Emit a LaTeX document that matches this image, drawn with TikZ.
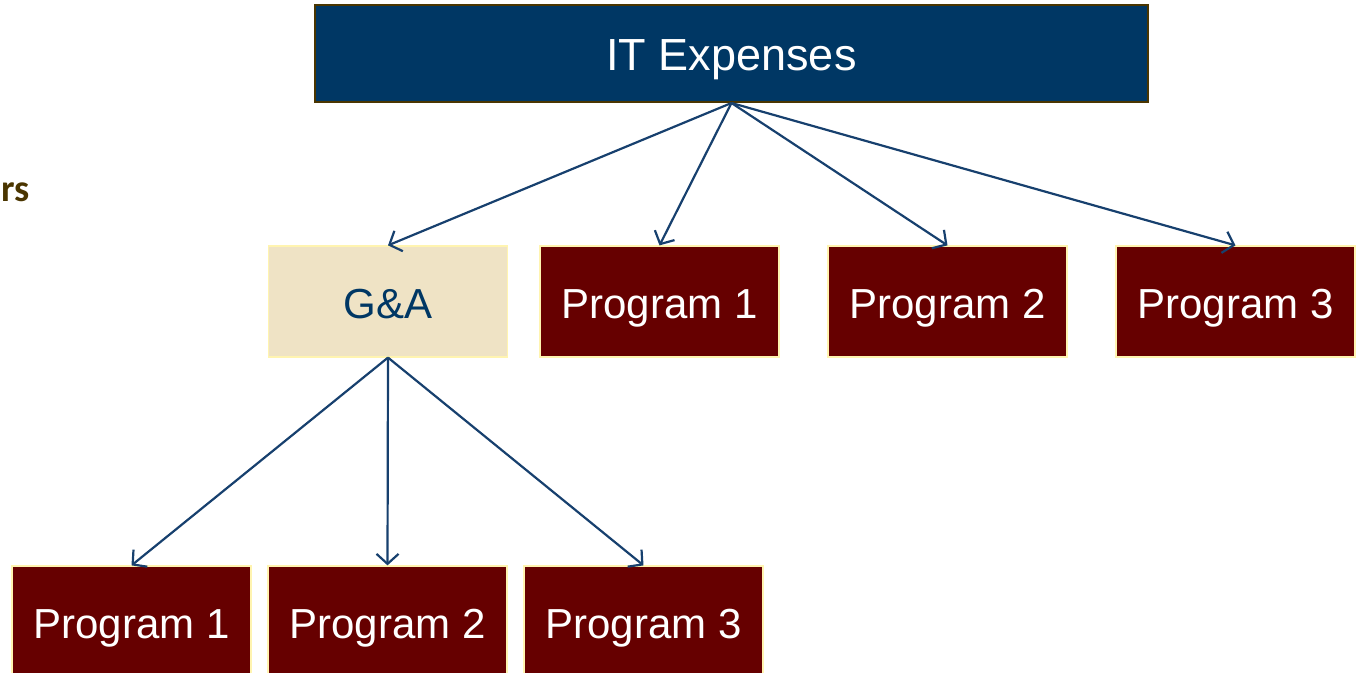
\documentclass[tikz,border=0pt]{standalone}
\usepackage{fontspec}
\setmainfont{Liberation Sans}
\newfontfamily\notefont{Carlito}
\usetikzlibrary{positioning, arrows.meta}
\definecolor{itnavy}{HTML}{003764}
\definecolor{progred}{HTML}{660000}
\definecolor{gasand}{HTML}{EFE3C5}
\definecolor{edgeyellow}{HTML}{FFF4B0}
\definecolor{edgebrown}{HTML}{4A3500}
\definecolor{arrownavy}{HTML}{17406E}
\tikzset{
top box/.style = {
             draw=edgebrown,
             line width=1pt,
             fill=itnavy,
             text=white,
             minimum width=416.5pt,
             minimum height=48.5pt,
             text height=17.2pt,
             text depth=0pt,
             font=\fontsize{22.5}{27}\selectfont
   },
cost box/.style = {
             draw=edgeyellow,
             line width=0.6pt,
             fill=progred,
             text=white,
             minimum width=119.5pt,
             minimum height=55.5pt,
             text height=16.8pt,
             text depth=0pt,
             font=\fontsize{21}{25}\selectfont
   },
ga box/.style = {
    cost box, fill=gasand, text=itnavy
  },
alloc/.style = {
     -{Straight Barb[length=5pt,width=11pt]},
     draw=arrownavy,
     line width=1.1pt
     }
}

\begin{document}
\begin{tikzpicture}[x=0.5pt, y=-0.5pt]
  \clip (0,0) rectangle (1356,673);
  \useasboundingbox (0,0) rectangle (1356,673);
  \node[anchor=west, inner sep=0pt, text=edgebrown, font=\notefont\bfseries\fontsize{19}{23}\selectfont] (note) at (1,192) {rs};
  \node[top box] (it) at (731.5,53.5) {IT Expenses};
  \node[ga box] (ga) at (388,301.5) {G\&A};
  \draw[alloc] (it.south) -- (ga.north);
  \foreach \i/\x in {1/659.5, 2/947.5, 3/1235.5} {
     \node[cost box] (top\i) at (\x,301.5) {Program \i};
     \draw[alloc] (it.south) -- (top\i.north);
  }
  \foreach \i/\x in {1/131.5, 2/387.5, 3/643.5} {
     \node[cost box] (low\i) at (\x,621.5) {Program \i};
     \draw[alloc] (ga.south) -- (low\i.north);
  }
\end{tikzpicture}
\end{document}
